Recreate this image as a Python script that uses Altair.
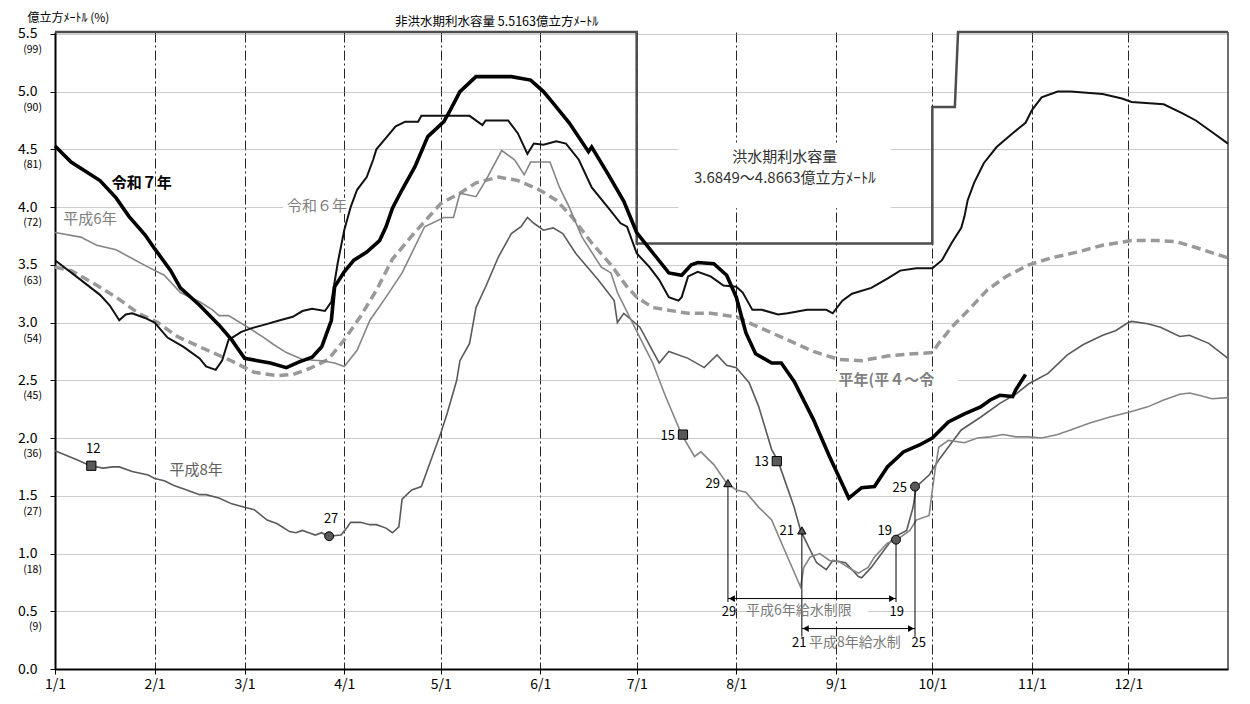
import altair as alt
import pandas as pd

FONT = "Noto Sans CJK JP"

# ---------------- axis ticks / labels ----------------
month_days = [0, 31, 59, 90, 120, 151, 181, 212, 243, 273, 304, 334]
month_labels = ["1/1", "2/1", "3/1", "4/1", "5/1", "6/1", "7/1", "8/1", "9/1", "10/1", "11/1", "12/1"]
y_ticks = [0.0, 0.5, 1.0, 1.5, 2.0, 2.5, 3.0, 3.5, 4.0, 4.5, 5.0, 5.5]
pct_ticks = [0.5, 1.0, 1.5, 2.0, 2.5, 3.0, 3.5, 4.0, 4.5, 5.0, 5.5]
pct_labels = ["(9)", "(18)", "(27)", "(36)", "(45)", "(54)", "(63)", "(72)", "(81)", "(90)", "(99)"]
Y_TOP = 5.5163

# ---------------- series (day from 1/1, 億m3) ----------------
r7_day = [0, 5, 14, 19, 23, 28, 31, 36, 39, 45, 51, 55, 59, 63, 67, 72, 76, 80, 83, 86, 87, 90, 93, 97,
          101, 103, 105, 108, 112, 116, 121, 123, 126, 131, 138, 142, 148, 152, 155, 160, 166, 167, 172,
          177, 181, 187, 191, 195, 198, 200, 205, 209, 212, 215, 218, 223, 226, 230, 236, 241, 247, 251,
          255, 259, 264, 269, 273, 278, 283, 288, 291, 294, 298, 299, 302]
r7_val = [4.53, 4.39, 4.23, 4.08, 3.92, 3.76, 3.64, 3.45, 3.30, 3.15, 2.98, 2.85, 2.69, 2.67, 2.65, 2.61,
          2.66, 2.70, 2.79, 3.02, 3.31, 3.44, 3.54, 3.61, 3.71, 3.83, 3.99, 4.15, 4.35, 4.61, 4.74, 4.84,
          5.00, 5.13, 5.13, 5.13, 5.10, 5.00, 4.90, 4.73, 4.48, 4.52, 4.29, 4.05, 3.78, 3.57, 3.43, 3.41,
          3.50, 3.52, 3.51, 3.41, 3.22, 2.91, 2.73, 2.65, 2.65, 2.49, 2.16, 1.84, 1.48, 1.57, 1.58, 1.75,
          1.88, 1.94, 2.00, 2.14, 2.21, 2.27, 2.33, 2.37, 2.36, 2.42, 2.55]

r6_day = [0, 8, 14, 17, 20, 22, 24, 28, 31, 35, 40, 45, 47, 50, 52, 54, 58, 61, 65, 70, 74, 77, 80, 84,
          86, 88, 90, 92, 94, 97, 99, 100, 103, 106, 109, 113, 114, 121, 129, 133, 134, 141, 144, 147,
          149, 152, 156, 159, 163, 167, 172, 176, 178, 181, 185, 188, 191, 194, 195, 197, 200, 204, 208,
          212, 214, 217, 220, 225, 228, 234, 240, 242, 245, 248, 254, 259, 263, 268, 273, 276, 279, 282,
          283, 284, 286, 289, 293, 298, 302, 304, 307, 312, 316, 326, 332, 335, 345, 351, 355, 360, 365]
r6_val = [3.54, 3.37, 3.24, 3.15, 3.02, 3.07, 3.08, 3.04, 3.00, 2.87, 2.79, 2.69, 2.62, 2.59, 2.67, 2.85,
          2.92, 2.95, 2.98, 3.02, 3.05, 3.10, 3.12, 3.10, 3.18, 3.52, 3.80, 4.00, 4.15, 4.26, 4.41, 4.50,
          4.60, 4.70, 4.74, 4.74, 4.79, 4.79, 4.79, 4.71, 4.75, 4.75, 4.64, 4.46, 4.55, 4.54, 4.57, 4.55,
          4.41, 4.17, 4.00, 3.86, 3.83, 3.60, 3.48, 3.37, 3.22, 3.19, 3.22, 3.40, 3.44, 3.40, 3.32, 3.31,
          3.26, 3.11, 3.11, 3.07, 3.08, 3.11, 3.11, 3.08, 3.19, 3.25, 3.30, 3.38, 3.45, 3.47, 3.47, 3.54,
          3.69, 3.82, 3.92, 4.06, 4.21, 4.38, 4.52, 4.64, 4.73, 4.84, 4.95, 5.00, 5.00, 4.98, 4.94, 4.91,
          4.89, 4.81, 4.75, 4.65, 4.55]

h6_day = [0, 8, 13, 19, 23, 29, 34, 39, 45, 49, 51, 54, 60, 65, 68, 72, 77, 83, 87, 90, 94, 98, 103, 108,
          115, 121, 124, 126, 131, 134, 139, 143, 146, 148, 154, 157, 160, 164, 170, 173, 175, 182, 186,
          190, 195, 199, 201, 205, 209, 212, 215, 219, 223, 227, 232, 233, 235, 238, 241, 244, 248, 250,
          253, 255, 259, 262, 266, 268, 272, 273, 274, 275, 278, 283, 287, 291, 295, 299, 303, 307, 312,
          316, 322, 328, 335, 340, 345, 350, 353, 356, 360, 365]
h6_val = [3.78, 3.74, 3.67, 3.63, 3.57, 3.48, 3.41, 3.26, 3.18, 3.11, 3.06, 3.06, 2.96, 2.87, 2.81, 2.74,
          2.68, 2.67, 2.65, 2.62, 2.76, 3.02, 3.22, 3.43, 3.83, 3.91, 3.91, 4.12, 4.09, 4.23, 4.49, 4.41,
          4.28, 4.39, 4.39, 4.17, 4.00, 3.74, 3.48, 3.43, 3.26, 2.87, 2.65, 2.36, 2.03, 1.84, 1.88, 1.77,
          1.61, 1.55, 1.53, 1.40, 1.29, 1.03, 0.71, 0.88, 0.97, 1.00, 0.94, 0.93, 0.86, 0.83, 0.88, 0.97,
          1.09, 1.12, 1.20, 1.29, 1.33, 1.55, 1.75, 1.92, 1.98, 1.96, 2.00, 2.01, 2.03, 2.01, 2.01, 2.00,
          2.03, 2.07, 2.13, 2.18, 2.23, 2.27, 2.33, 2.38, 2.39, 2.37, 2.34, 2.35]

h8_day = [0, 7, 11, 15, 18, 20, 24, 29, 31, 34, 37, 41, 45, 47, 51, 55, 59, 62, 66, 69, 73, 75, 77, 79,
          81, 83, 85, 89, 91, 92, 95, 98, 100, 103, 105, 107, 108, 111, 114, 117, 120, 122, 125, 126,
          129, 131, 134, 138, 142, 145, 147, 149, 152, 155, 158, 162, 169, 174, 175, 177, 182, 188, 191,
          197, 202, 206, 209, 212, 216, 219, 223, 225, 227, 230, 232, 235, 237, 240, 242, 246, 250, 251,
          254, 258, 261, 265, 267, 268, 272, 275, 279, 282, 288, 294, 299, 303, 309, 315, 320, 326, 330,
          334, 335, 340, 344, 350, 353, 359, 365]
h8_val = [1.89, 1.81, 1.76, 1.74, 1.75, 1.75, 1.71, 1.68, 1.65, 1.63, 1.59, 1.55, 1.51, 1.51, 1.48, 1.43,
          1.40, 1.38, 1.29, 1.26, 1.19, 1.18, 1.20, 1.18, 1.16, 1.18, 1.15, 1.16, 1.23, 1.27, 1.27, 1.25,
          1.25, 1.22, 1.18, 1.23, 1.47, 1.55, 1.58, 1.81, 2.04, 2.21, 2.50, 2.67, 2.82, 3.13, 3.31, 3.57,
          3.77, 3.83, 3.91, 3.86, 3.80, 3.82, 3.77, 3.60, 3.37, 3.19, 3.00, 3.08, 2.96, 2.65, 2.75, 2.69,
          2.61, 2.72, 2.63, 2.61, 2.48, 2.27, 1.90, 1.80, 1.64, 1.40, 1.20, 1.03, 0.92, 0.86, 0.94, 0.92,
          0.80, 0.79, 0.88, 1.03, 1.14, 1.20, 1.40, 1.58, 1.68, 1.81, 1.96, 2.07, 2.18, 2.30, 2.38, 2.47,
          2.56, 2.72, 2.81, 2.89, 2.93, 3.00, 3.01, 2.99, 2.96, 2.88, 2.89, 2.82, 2.69]

avg_day = [0, 5, 12, 19, 26, 32, 38, 45, 54, 62, 69, 74, 79, 85, 90, 95, 100, 105, 111, 120, 126, 131,
           138, 144, 150, 156, 161, 167, 173, 178, 181, 186, 197, 204, 212, 219, 228, 236, 244, 251, 259,
           267, 273, 275, 279, 285, 290, 296, 303, 310, 318, 326, 335, 343, 349, 355, 365]
avg_val = [3.48, 3.45, 3.34, 3.22, 3.08, 3.00, 2.88, 2.79, 2.68, 2.57, 2.54, 2.55, 2.60, 2.68, 2.85, 3.05,
           3.28, 3.55, 3.75, 4.03, 4.12, 4.21, 4.26, 4.23, 4.16, 4.06, 3.91, 3.69, 3.50, 3.31, 3.22, 3.13,
           3.08, 3.08, 3.05, 2.96, 2.85, 2.75, 2.68, 2.67, 2.71, 2.73, 2.74, 2.82, 2.96, 3.13, 3.28, 3.40,
           3.50, 3.56, 3.61, 3.67, 3.71, 3.71, 3.70, 3.65, 3.56]

cap_day = [0, 181, 181, 273, 273, 280, 281, 365]
cap_val = [5.5163, 5.5163, 3.6849, 3.6849, 4.8663, 4.8663, 5.5163, 5.5163]

# ---------------- markers ----------------
sq_day = [11.3, 195.4, 224.6]
sq_val = [1.76, 2.03, 1.80]
sq_lab = ["12", "15", "13"]
ci_day = [85.3, 261.7, 267.6]
ci_val = [1.15, 1.12, 1.58]
ci_lab = ["27", "19", "25"]
tr_day = [209.4, 232.4]
tr_val = [1.61, 1.20]
tr_lab = ["29", "21"]

# restriction periods (start day, end day, arrow level, drop bottom)
rs_start = [209.4, 232.4]
rs_end = [261.7, 267.6]
rs_level = [0.61, 0.35]
rs_bottom = [0.58, 0.28]
rs_name = ["平成6年給水制限", "平成8年給水制"]

# ---------------- helpers ----------------
def df(days, vals):
    return pd.DataFrame({"day": days, "v": vals})

xsc = alt.Scale(domain=[0, 365], nice=False, zero=False)
ysc = alt.Scale(domain=[0, Y_TOP], nice=False, zero=True)

label_expr = "[" + ",".join("'%s'" % s for s in month_labels) + "][indexof([" + ",".join(str(d) for d in month_days) + "], datum.value)]"

X = alt.X("day:Q", scale=xsc, title=None,
          axis=alt.Axis(values=month_days, labelExpr=label_expr, grid=True,
                        gridColor="#000000", gridDash=[10, 3, 2, 3], gridWidth=1, gridOpacity=0.85,
                        domainColor="#000000", domainWidth=2, tickColor="#000000", tickSize=5,
                        labelFontSize=14, labelFont=FONT, labelColor="#000000", labelPadding=3,
                        labelFlush=False))
Y = alt.Y("v:Q", scale=ysc,
          axis=alt.Axis(values=y_ticks, format=".1f", grid=True, gridColor="#9a9a9a",
                        gridDash=[1, 1], gridWidth=1, domainColor="#000000", domainWidth=2,
                        tickColor="#000000", tickSize=5, labelFontSize=14, labelFont=FONT,
                        labelColor="#000000", labelPadding=13,
                        title="億立方ﾒｰﾄﾙ (%)", titleAngle=0, titleAlign="left",
                        titleBaseline="middle", titleX=-28, titleY=-15, titleFontSize=12,
                        titleFontWeight="normal", titleFont=FONT, titleColor="#000000"))

layers = []

# white label boxes (hide grid behind labels)
box = pd.DataFrame({
    "day": [194, 71, 243, 217],
    "day2": [260, 92, 281, 253],
    "v": [3.99, 3.94, 2.42, 0.43],
    "v2": [4.56, 4.08, 2.58, 0.57],
})
layers.append(alt.Chart(box).mark_rect(color="white").encode(
    x=X, x2="day2:Q", y=Y, y2="v2:Q"))

# percentage sub labels
layers.append(alt.Chart(pd.DataFrame({"day": [0] * len(pct_ticks), "v": pct_ticks, "t": pct_labels}))
              .mark_text(align="right", baseline="middle", dx=-13, dy=16, fontSize=10.5, font=FONT, color="#000000")
              .encode(x=X, y=Y, text="t:N"))

# right frame
layers.append(alt.Chart(pd.DataFrame({"day": [365], "v": [0], "v2": [Y_TOP]}))
              .mark_rule(color="#404040", strokeWidth=1.5).encode(x=X, y=Y, y2="v2:Q"))

# series lines
layers.append(alt.Chart(df(avg_day, avg_val)).mark_line(color="#999999", strokeWidth=3.5,
              strokeDash=[9, 5], strokeCap="butt").encode(x=X, y=Y, order="day:Q"))
layers.append(alt.Chart(df(h8_day, h8_val)).mark_line(color="#5a5a5a", strokeWidth=1.6)
              .encode(x=X, y=Y, order="day:Q"))
layers.append(alt.Chart(df(h6_day, h6_val)).mark_line(color="#858585", strokeWidth=1.6)
              .encode(x=X, y=Y, order="day:Q"))
layers.append(alt.Chart(df(r6_day, r6_val)).mark_line(color="#111111", strokeWidth=2)
              .encode(x=X, y=Y, order="day:Q"))
layers.append(alt.Chart(df(cap_day, cap_val)).mark_line(color="#4d4d4d", strokeWidth=2.5)
              .encode(x=X, y=Y, order=alt.Order("i:Q")).transform_window(i="row_number()"))
layers.append(alt.Chart(df(r7_day, r7_val)).mark_line(color="#000000", strokeWidth=3.6)
              .encode(x=X, y=Y, order="day:Q"))

# restriction drop lines and arrows
rs = pd.DataFrame({"s": rs_start, "e": rs_end, "lvl": rs_level, "bot": rs_bottom, "name": rs_name,
                   "ts": tr_val, "te": [ci_val[1], ci_val[2]]})
layers.append(alt.Chart(rs).transform_calculate(day="datum.s", v="datum.ts", v2="datum.bot")
              .mark_rule(color="#000000", strokeWidth=1).encode(x=X, y=Y, y2="v2:Q"))
layers.append(alt.Chart(rs).transform_calculate(day="datum.e", v="datum.te", v2="datum.bot")
              .mark_rule(color="#000000", strokeWidth=1).encode(x=X, y=Y, y2="v2:Q"))
layers.append(alt.Chart(rs).transform_calculate(day="datum.s", day2="datum.e", v="datum.lvl")
              .mark_rule(color="#000000", strokeWidth=1).encode(x=X, x2="day2:Q", y=Y))
layers.append(alt.Chart(rs).transform_calculate(day="datum.s", v="datum.lvl")
              .mark_point(shape="triangle-left", filled=True, color="#000000", opacity=1, size=45, xOffset=4)
              .encode(x=X, y=Y))
layers.append(alt.Chart(rs).transform_calculate(day="datum.e", v="datum.lvl")
              .mark_point(shape="triangle-right", filled=True, color="#000000", opacity=1, size=45, xOffset=-4)
              .encode(x=X, y=Y))

# markers
mk = dict(filled=True, fill="#595959", stroke="#000000", strokeWidth=1, opacity=1)
layers.append(alt.Chart(df(sq_day, sq_val)).mark_point(shape="square", size=85, **mk).encode(x=X, y=Y))
layers.append(alt.Chart(df(ci_day, ci_val)).mark_point(shape="circle", size=80, **mk).encode(x=X, y=Y))
layers.append(alt.Chart(df(tr_day, tr_val)).mark_point(shape="triangle-up", size=70, **mk).encode(x=X, y=Y))

# marker labels
lab = pd.DataFrame({"day": sq_day + ci_day + tr_day, "v": sq_val + ci_val + tr_val,
                    "t": sq_lab + ci_lab + tr_lab})
above = lab[lab["t"].isin(["12", "27"])]
left = lab[lab["t"].isin(["15", "13", "29", "21", "25"])]
upleft = lab[lab["t"].isin(["19"])]
tk = dict(fontSize=13, font=FONT, color="#000000", baseline="middle")
layers.append(alt.Chart(above).mark_text(align="center", dy=-17, dx=2, **tk).encode(x=X, y=Y, text="t:N"))
layers.append(alt.Chart(left).mark_text(align="right", dx=-8, dy=1, **tk).encode(x=X, y=Y, text="t:N"))
layers.append(alt.Chart(upleft).mark_text(align="right", dx=-4, dy=-9, **tk).encode(x=X, y=Y, text="t:N"))

# bottom date labels of restrictions
bl = pd.DataFrame({"day": [209.7, 261.9, 231.6, 268.8], "v": [0.49, 0.49, 0.225, 0.225],
                   "t": ["29", "19", "21", "25"]})
layers.append(alt.Chart(bl).mark_text(align="center", **tk).encode(x=X, y=Y, text="t:N"))

# restriction names
nm = pd.DataFrame({"day": [231.5, 248.9], "v": [0.50, 0.225], "t": rs_name})
layers.append(alt.Chart(nm).mark_text(align="center", baseline="middle", fontSize=14, font=FONT,
              color="#7a7a7a").encode(x=X, y=Y, text="t:N"))

# series / annotation labels
def label(day, v, t, **kw):
    base = dict(font=FONT, baseline="middle", align="center", fontSize=15)
    base.update(kw)
    return alt.Chart(pd.DataFrame({"day": [day], "v": [v], "t": [t]})).mark_text(**base).encode(
        x=X, y=Y, text="t:N")

layers.append(label(27, 4.21, "令和７年", fontWeight="bold", color="#000000"))
layers.append(label(81.5, 4.01, "令和６年", color="#808080"))
layers.append(label(10.9, 3.90, "平成6年", color="#808080"))
layers.append(label(43.9, 1.72, "平成8年", color="#606060"))
layers.append(label(243.8, 2.50, "平年(平４～令", align="left", fontWeight="bold", color="#808080"))
layers.append(label(227.1, 4.43, "洪水期利水容量", color="#333333"))
layers.append(label(227.1, 4.25, "3.6849～4.8663億立方ﾒｰﾄﾙ", color="#333333"))
layers.append(label(105.8, Y_TOP, "非洪水期利水容量  5.5163億立方ﾒｰﾄﾙ", align="left", dy=-10,
                    fontSize=12.5, color="#000000"))

chart = alt.layer(*layers).properties(
    width=1173, height=637,
    autosize=alt.AutoSizeParams(type="none"),
    padding={"left": 47, "top": 24, "right": 10, "bottom": 25},
    background="white",
).configure_view(strokeWidth=0)

chart.save("out.html", embed_options={"renderer": "svg", "actions": False})
